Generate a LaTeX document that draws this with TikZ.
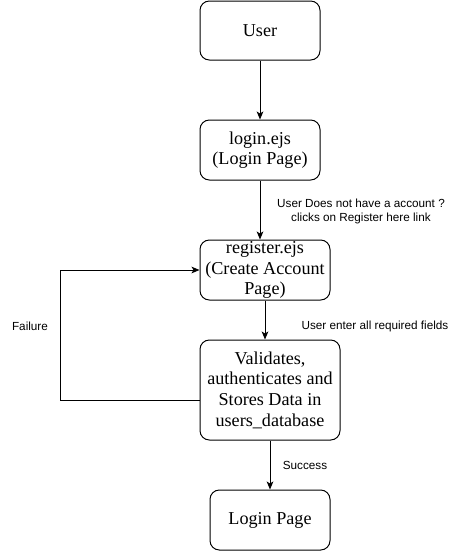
\documentclass[tikz,border=0pt]{standalone}
\usepackage{fontspec}
\setmainfont{Liberation Serif}
\setsansfont{Liberation Sans}
\usetikzlibrary{arrows.meta}
\begin{document}
\begin{tikzpicture}[x=0.75pt,y=-0.75pt,
  box/.style={draw=black,line width=0.75pt,rounded corners=7pt,align=center,
    inner sep=0pt,font=\fontsize{13.6}{15.5}\selectfont},
  conn/.style={draw=black,line width=0.75pt,-{Stealth[length=6pt,width=5pt,inset=1.5pt]}},
  lbl/.style={font=\sffamily\fontsize{8.8}{10.5}\selectfont,align=center,inner sep=0pt}]
\useasboundingbox (0,0) rectangle (461,551);
\node[box,minimum width=120*0.75pt,minimum height=59*0.75pt] (user) at (260,30.5) {User};
\node[box,minimum width=120*0.75pt,minimum height=60*0.75pt] (login) at (260,150) {login.ejs\\(Login Page)};
\node[box,minimum width=130*0.75pt,minimum height=60*0.75pt] (register) at (265,270) {register.ejs\\(Create Account\\Page)};
\node[box,minimum width=140*0.75pt,minimum height=100*0.75pt] (valid) at (270,390) {Validates,\\authenticates and\\Stores Data in\\users\_database};
\node[box,minimum width=120*0.75pt,minimum height=60*0.75pt] (lp) at (270,520) {Login Page};
\draw[conn] (user.south) -- (login.north);
\draw[conn] (login.south) -- (login.south |- register.north);
\draw[conn] (register.south) -- (register.south |- valid.north);
\draw[conn] (valid.south) -- (lp.north);
\coordinate (fa) at (60,400);
\coordinate (fb) at (60,270);
\draw[conn] (fa -| valid.west) -- (fa) -- (fb) -- (register.west);
\node[lbl] (l1) at (361,211) {User Does not have a account ?\\clicks on Register here link};
\node[lbl] (l2) at (375,326) {User enter all required fields};
\node[lbl] (l3) at (30,326) {Failure};
\node[lbl] (l4) at (305,465) {Success};
\end{tikzpicture}
\end{document}
